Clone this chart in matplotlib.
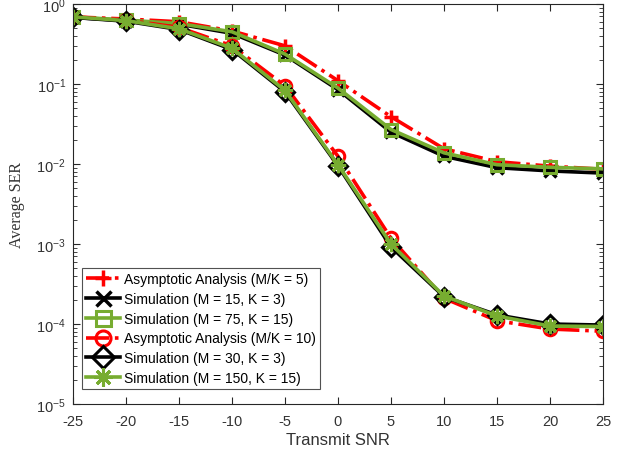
import matplotlib
matplotlib.use("Agg")
import matplotlib.pyplot as plt
import numpy as np
from matplotlib.ticker import LogLocator, NullFormatter

plt.rcParams['font.family'] = ['Liberation Sans', 'DejaVu Sans']
plt.rcParams['mathtext.default'] = 'regular'
plt.rcParams['axes.unicode_minus'] = False

snr = [-25, -20, -15, -10, -5, 0, 5, 10, 15, 20, 25]

asym_mk5 = [0.69, 0.65, 0.60, 0.46, 0.30, 0.11, 0.039, 0.0155, 0.0107, 0.0094, 0.0086]
sim_m15_k3 = [0.68, 0.62, 0.56, 0.43, 0.23, 0.085, 0.025, 0.0125, 0.009, 0.0082, 0.0077]
sim_m75_k15 = [0.69, 0.63, 0.57, 0.45, 0.237, 0.089, 0.027, 0.0138, 0.0098, 0.0091, 0.0087]
asym_mk10 = [0.69, 0.63, 0.51, 0.30, 0.095, 0.0125, 0.00118, 0.00021, 0.00011, 0.0000866, 0.0000813]
sim_m30_k3 = [0.68, 0.61, 0.48, 0.27, 0.08, 0.0095, 0.00092, 0.00022, 0.00013, 0.0001, 0.000097]
sim_m150_k15 = [0.69, 0.62, 0.49, 0.28, 0.083, 0.0098, 0.001, 0.000224, 0.000126, 0.0000944, 0.000093]

labels = ['Asymptotic Analysis (M/K = 5)', 'Simulation (M = 15, K = 3)',
          'Simulation (M = 75, K = 15)', 'Asymptotic Analysis (M/K = 10)',
          'Simulation (M = 30, K = 3)', 'Simulation (M = 150, K = 15)']

red = '#FF0000'
green = '#77AC30'
black = '#000000'

fig = plt.figure(figsize=(6.31, 4.56), dpi=100)
ax = fig.add_axes([0.1157, 0.1118, 0.8399, 0.8772])

lw = 2.6
asterisk = (8, 2, 0)
ax.plot(snr, asym_mk5, linestyle='-.', color=red, lw=lw, marker='+', ms=10, mew=2.5, label=labels[0])
ax.plot(snr, sim_m15_k3, linestyle='-', color=black, lw=lw, marker='x', ms=9, mew=2.5, label=labels[1])
ax.plot(snr, sim_m75_k15, linestyle='-', color=green, lw=lw, marker='s', ms=9, mew=2.2, mfc='none', label=labels[2])
ax.plot(snr, asym_mk10, linestyle='-.', color=red, lw=lw, marker='o', ms=9, mew=2.2, mfc='none', label=labels[3])
ax.plot(snr, sim_m30_k3, linestyle='-', color=black, lw=lw, marker='D', ms=9, mew=2.2, mfc='none', label=labels[4])
ax.plot(snr, sim_m150_k15, linestyle='-', color=green, lw=lw, marker=asterisk, ms=11, mew=2.2, label=labels[5])

ax.set_yscale('log')
ax.set_xlim(-25, 25)
ax.set_ylim(1e-5, 1)
ax.set_xticks(snr)
ax.yaxis.set_major_locator(LogLocator(base=10, numticks=10))
ax.yaxis.set_minor_locator(LogLocator(base=10, subs=np.arange(2, 10), numticks=20))
ax.yaxis.set_minor_formatter(NullFormatter())

axcol = '#262626'
for s in ax.spines.values():
    s.set_color(axcol)
    s.set_linewidth(0.8)
ax.tick_params(which='both', direction='in', top=True, right=True, colors=axcol, labelcolor='#333333', labelsize=10.5)
ax.tick_params(which='major', length=5)
ax.tick_params(which='minor', length=3)
ax.tick_params(axis='x', pad=7)
ax.tick_params(axis='y', pad=5)

ax.set_xlabel('Transmit SNR', fontsize=12, color='#333333', labelpad=3)
ax.set_ylabel('Average SER', fontsize=11.5, color='#333333', family=['Liberation Serif'], labelpad=8)

leg = ax.legend(loc='lower left', bbox_to_anchor=(0.017, 0.037), fontsize=10, frameon=True,
                fancybox=False, edgecolor=axcol, handlelength=2.4, handletextpad=0.35,
                borderpad=0.3, labelspacing=0.42, borderaxespad=0, markerscale=1.2)
leg.get_frame().set_linewidth(0.8)

fig.savefig('out.png', dpi=100)
